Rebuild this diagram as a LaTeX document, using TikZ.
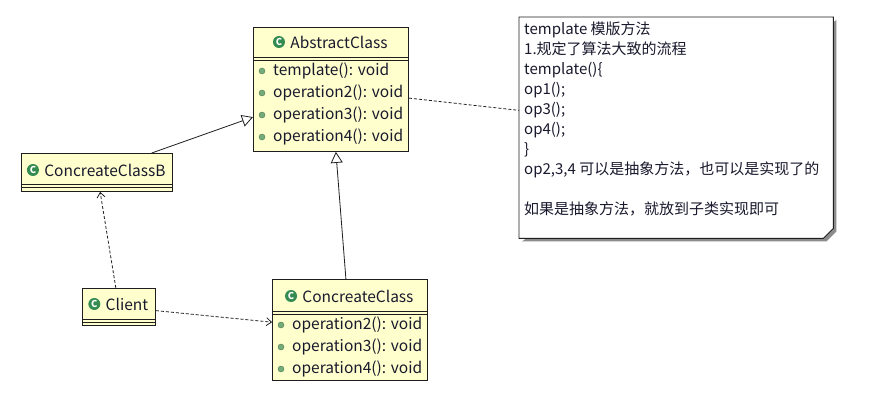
\documentclass[tikz,border=0pt]{standalone}
\usepackage{fontspec}
\setmainfont{Noto Sans CJK SC}
\usetikzlibrary{arrows.meta, positioning, calc}
\definecolor{umlfill}{RGB}{255,255,206}
\definecolor{umlline}{RGB}{30,30,30}
\definecolor{umltext}{RGB}{25,25,45}
\definecolor{icongreen}{RGB}{52,140,80}
\definecolor{dotgreen}{RGB}{115,172,120}
\definecolor{notegray}{RGB}{140,140,140}
\tikzset{
  classbox/.style={rectangle, draw=umlline, fill=umlfill, line width=0.9pt,
    anchor=north west, inner sep=0pt},
  classname/.style={font=\fontsize{15.5}{18}\selectfont, text=umltext, inner sep=0pt},
  classicon/.style={circle, fill=icongreen, minimum size=12pt, inner sep=0pt,
    text=white, font=\bfseries\fontsize{9.5}{9.5}\selectfont},
  member/.style={anchor=west, font=\fontsize{15.5}{18}\selectfont, text=umltext, inner sep=0pt},
  memberdot/.style={circle, fill=dotgreen, draw=dotgreen!70!black, line width=0.4pt,
    minimum size=6pt, inner sep=0pt},
  notebox/.style={rectangle, anchor=north west, inner sep=0pt,
    minimum width=314pt, minimum height=221pt},
  inherit/.style={-{Triangle[open, length=11pt, width=12pt]}, line width=0.8pt, color=umlline},
  depend/.style={-{Straight Barb[length=5pt, width=8pt]}, dash pattern=on 3pt off 2pt,
    line width=0.8pt, color=umlline},
  noteline/.style={dash pattern=on 3pt off 2pt, line width=0.8pt, color=umlline}
}

\begin{document}
\begin{tikzpicture}[x=1pt, y=-1pt]
  \useasboundingbox[fill=white] (0,0) rectangle (887,404);

  % Class boxes
  \node[classbox, minimum width=155pt, minimum height=124pt] (abs) at (253,27) {};
  \node[classbox, minimum width=151pt, minimum height=38pt] (ccb) at (21,153) {};
  \node[classbox, minimum width=73pt, minimum height=37pt] (client) at (82,288) {};
  \node[classbox, minimum width=155pt, minimum height=101pt] (cc) at (272,279) {};

  % Class names with icon
  \node[classname] (abs-t) at ($(abs.north)+(8,15)$) {AbstractClass};
  \node[classicon, left=5pt of abs-t] {C};
  \node[classname] (ccb-t) at ($(ccb.north)+(8,17)$) {ConcreateClassB};
  \node[classicon, left=5pt of ccb-t] {C};
  \node[classname] (client-t) at ($(client.north)+(8,16)$) {Client};
  \node[classicon, left=5pt of client-t] {C};
  \node[classname] (cc-t) at ($(cc.north)+(8,17)$) {ConcreateClass};
  \node[classicon, left=5pt of cc-t] {C};

  % Header separators
  \foreach \c/\h in {abs/30, ccb/31, client/31, cc/32} {
    \draw[umlline, line width=0.9pt] ($(\c.north west)+(0,\h)$) -- ($(\c.north east)+(0,\h)$);
    \draw[umlline, line width=0.9pt] ($(\c.north west)+(0,\h+3.5)$) -- ($(\c.north east)+(0,\h+3.5)$);
  }

  % Members
  \foreach \op [count=\i] in {template, operation2, operation3, operation4} {
    \node[memberdot] at ($(abs.north west)+(9,{22+22*\i})$) {};
    \node[member] at ($(abs.north west)+(20,{22+22*\i})$) {\op(): void};
  }
  \foreach \op [count=\i] in {operation2, operation3, operation4} {
    \node[memberdot] at ($(cc.north west)+(9,{24+22*\i})$) {};
    \node[member] at ($(cc.north west)+(20,{24+22*\i})$) {\op(): void};
  }

  % Note
  \node[notebox] (note) at (519,17) {};
  \fill[notegray] ($(note.north east)+(3,3)$) -- ($(note.south east)+(3,-7)$)
    -- ($(note.south east)+(-7,3)$) -- ($(note.south west)+(3,3)$) -- cycle;
  \draw[umlline, fill=white, line width=0.9pt] (note.north west) -- (note.north east)
    -- ($(note.south east)+(0,-10)$) -- ($(note.south east)+(-10,0)$)
    -- (note.south west) -- cycle;
  \node[anchor=north west, align=left, inner sep=0pt, text=umltext,
    font=\fontsize{15}{20}\selectfont] (note-t) at ($(note.north west)+(5,5)$)
    {template 模版方法\\
     1.规定了算法大致的流程\\
     template()\{\\
     op1();\\
     op3();\\
     op4();\\
     \}\\
     op2,3,4 可以是抽象方法，也可以是实现了的\\
     ~\\
     如果是抽象方法，就放到子类实现即可};

  % Connectors
  \draw[inherit] (ccb) -- (abs);
  \draw[inherit] (cc) -- (abs);
  \draw[depend] (client) -- (ccb);
  \draw[depend] (client) -- (cc);
  \draw[noteline] (abs) -- (note);
\end{tikzpicture}
\end{document}
